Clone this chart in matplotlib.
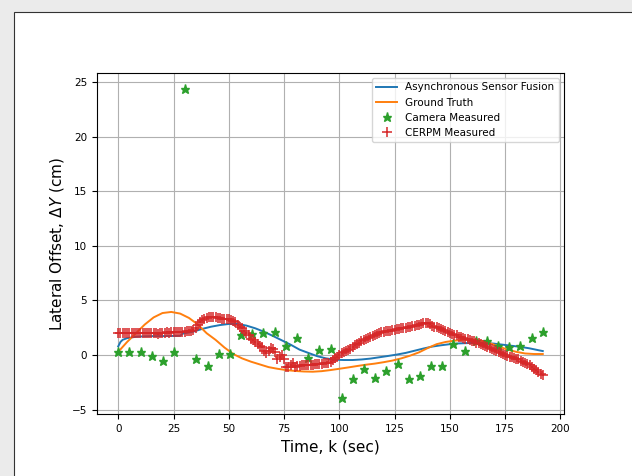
import numpy as np
import matplotlib
matplotlib.use("Agg")
import matplotlib.pyplot as plt
from matplotlib.patches import Rectangle

# camera measurements, one every ~5 s
cam_t = np.linspace(0, 192, 39)
cam_y = [0.25, 0.25, 0.25, -0.05, -0.5, 0.3, 24.4, -0.35, -1.0, 0.1,
         0.1, 1.8, 1.95, 2.05, 2.1, 0.8, 1.55, -0.25, 0.45, 0.6,
         -3.97, -2.2, -1.25, -2.1, -1.5, -0.8, -2.2, -1.9, -1.0, -1.0,
         1.05, 0.35, 1.3, 1.28, 0.8, 0.77, 0.85, 1.6, 2.1]

# CERPM measurements, one per second
cerpm_t = np.arange(0, 193)
cerpm_y = [2.0, 2.0, 2.0, 2.0, 2.0, 2.0, 2.0, 2.0, 2.0, 2.0,
           2.0, 2.0, 2.0, 2.0, 2.0, 2.0, 2.0, 2.0, 1.95, 2.0,
           2.05, 2.05, 2.1, 2.05, 2.1, 2.1, 2.1, 2.15, 2.1, 2.15,
           2.15, 2.2, 2.2, 2.2, 2.3, 2.5, 2.8, 3.0, 3.2, 3.35,
           3.4, 3.45, 3.45, 3.45, 3.45, 3.4, 3.4, 3.35, 3.35, 3.3,
           3.3, 3.25, 3.1, 3.0, 2.8, 2.6, 2.45, 2.2, 2.0, 1.8,
           1.5, 1.35, 1.2, 1.0, 0.85, 0.7, 0.35, 0.15, 0.35, 0.65,
           0.6, 0.3, -0.4, -0.2, 0.0, -0.4, -1.05, -1.1, -0.9, -0.7,
           -1.05, -1.0, -1.0, -0.95, -0.95, -0.9, -0.9, -0.9, -0.9, -0.85,
           -0.85, -0.8, -0.8, -0.75, -0.75, -0.7, -0.6, -0.45, -0.3, -0.15,
           0.05, 0.15, 0.3, 0.4, 0.45, 0.6, 0.75, 0.9, 1.05, 1.15,
           1.25, 1.35, 1.45, 1.55, 1.65, 1.75, 1.85, 1.95, 2.05, 2.1,
           2.15, 2.2, 2.2, 2.25, 2.3, 2.3, 2.35, 2.4, 2.45, 2.5,
           2.5, 2.55, 2.6, 2.65, 2.7, 2.75, 2.8, 2.85, 2.9, 2.95,
           2.95, 2.85, 2.7, 2.6, 2.6, 2.5, 2.4, 2.3, 2.2, 2.1,
           2.0, 1.95, 1.85, 1.8, 1.7, 1.65, 1.6, 1.5, 1.45, 1.4,
           1.3, 1.25, 1.15, 1.1, 1.0, 0.95, 0.85, 0.75, 0.65, 0.55,
           0.45, 0.35, 0.3, 0.2, 0.1, 0.0, -0.05, -0.15, -0.2, -0.3,
           -0.35, -0.4, -0.5, -0.6, -0.7, -0.8, -0.95, -1.1, -1.25, -1.4,
           -1.55, -1.7, -1.83]

# asynchronous sensor fusion estimate
fusion_t = [0, 1, 2, 4, 8, 12, 16, 20, 24, 28, 29, 30, 34, 38, 42, 46, 50, 54,
            58, 62, 66, 70, 74, 78, 82, 86, 90, 94, 98, 102, 106, 110, 114, 118,
            122, 126, 130, 134, 138, 142, 146, 150, 154, 158, 162, 166, 170, 174,
            178, 182, 186, 190, 192]
fusion_y = [0.8, 1.2, 1.4, 1.55, 1.68, 1.72, 1.74, 1.74, 1.75, 1.76, 1.95, 2.0,
            2.15, 2.4, 2.6, 2.75, 2.85, 2.85, 2.7, 2.45, 2.13, 1.75, 1.35, 0.95,
            0.5, 0.2, -0.1, -0.3, -0.42, -0.45, -0.45, -0.4, -0.32, -0.2, -0.08,
            0.05, 0.2, 0.4, 0.6, 0.78, 0.9, 1.0, 1.07, 1.1, 1.12, 1.1, 1.05,
            0.95, 0.85, 0.75, 0.62, 0.45, 0.37]

# ground truth
truth_t = np.arange(0, 193, 4)
truth_y = [0.3, 1.2, 2.0, 2.8, 3.45, 3.85, 3.95, 3.8, 3.4, 2.8,
           2.0, 1.4, 0.7, 0.1, -0.3, -0.6, -0.85, -1.1, -1.25, -1.37,
           -1.45, -1.5, -1.52, -1.47, -1.37, -1.25, -1.13, -1.0, -0.88, -0.78,
           -0.65, -0.5, -0.3, -0.05, 0.25, 0.65, 1.0, 1.2, 1.32, 1.4,
           1.42, 1.32, 1.1, 0.8, 0.5, 0.3, 0.15, 0.1, 0.1]

fig = plt.figure(figsize=(6.32, 4.76), dpi=100)
fig.patch.set_facecolor('#ebebeb')
# white card with a dark border, as in the screenshot
fig.patches.append(Rectangle((14 / 632, -0.1), 1.2, 1 - 12 / 476 + 0.1,
                             transform=fig.transFigure, facecolor='white',
                             edgecolor='#333333', linewidth=0.8, zorder=-1))

ax = fig.add_axes([0.1535, 0.1303, 0.7389, 0.7163])
ax.plot(fusion_t, fusion_y, color='C0', lw=1.4, label='Asynchronous Sensor Fusion')
ax.plot(truth_t, truth_y, color='C1', lw=1.4, label='Ground Truth')
ax.plot(cam_t, cam_y, '*', color='C2', ms=6.5, label='Camera Measured')
ax.plot(cerpm_t, cerpm_y, '+', color='C3', ms=6.5, mew=1.1, label='CERPM Measured')

ax.grid(True)
ax.set_xlabel('Time, k (sec)', fontsize=11)
ax.set_ylabel(r'Lateral Offset, $\Delta Y$ (cm)', fontsize=11)
ax.tick_params(labelsize=7.5)
ax.legend(loc='upper right', fontsize=7.5)

fig.savefig('out.png', dpi=100)
